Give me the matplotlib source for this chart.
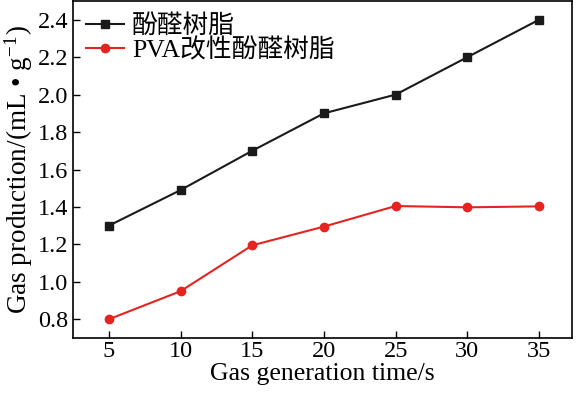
import numpy as np
import matplotlib
matplotlib.use("Agg")
import matplotlib.pyplot as plt

plt.rcParams['font.family'] = ['Liberation Serif', 'Noto Sans CJK SC']
plt.rcParams['mathtext.fontset'] = 'stix'

time_s = [5, 10, 15, 20, 25, 30, 35]
phenolic = [1.30, 1.49, 1.70, 1.90, 2.00, 2.20, 2.40]
pva_phenolic = [0.80, 0.95, 1.195, 1.295, 1.405, 1.398, 1.403]
labels = ['酚醛树脂', 'PVA改性酚醛树脂']

fig = plt.figure(figsize=(5.77, 3.93), dpi=100)
ax = fig.add_axes([73/577, 55/393, 499/577, 337/393])

ax.plot(time_s, phenolic, color='#1a1a1a', marker='s', markersize=6, lw=1.5, label=labels[0])
ax.plot(time_s, pva_phenolic, color='#e52421', marker='o', markersize=6, lw=1.5, label=labels[1])

ax.set_xlim(2.5, 37.3)
ax.set_ylim(0.7, 2.5)
ax.set_xticks(time_s)
ax.set_yticks(np.arange(0.8, 2.41, 0.2))
ax.yaxis.set_major_formatter(matplotlib.ticker.FormatStrFormatter('%.1f'))
ax.tick_params(direction='in', labelsize=17.5, length=5, width=1, top=False, right=False)
ax.tick_params(axis='x', pad=2)
for s in ax.spines.values():
    s.set_linewidth(1.2)

ax.set_xlabel('Gas generation time/s', fontsize=18.5, labelpad=1)
ax.set_ylabel('Gas production/(mL • g$^{\\mathregular{-1}}$)', fontsize=19.5, labelpad=2)

ax.legend(loc='upper left', frameon=False, fontsize=18.5, handlelength=1.5,
          borderaxespad=0.1, labelspacing=0.0, handletextpad=0.3)

fig.savefig('out.png', dpi=100)
